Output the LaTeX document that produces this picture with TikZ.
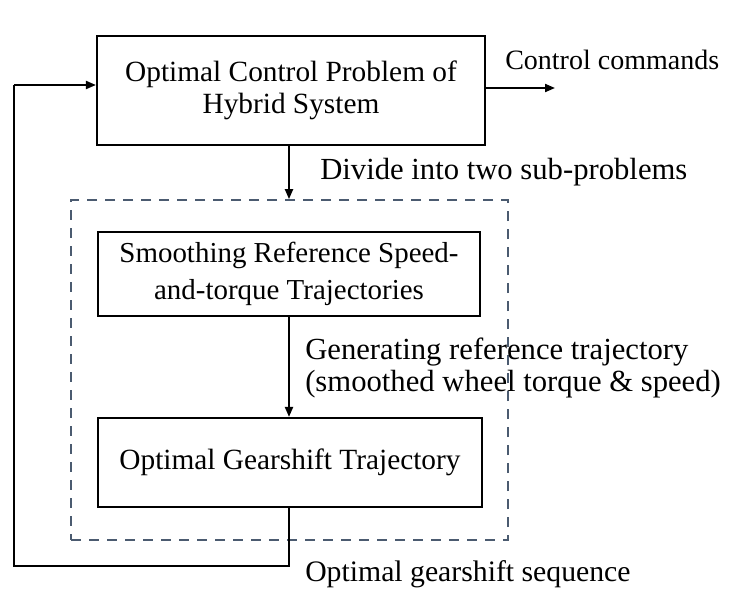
\documentclass[tikz,border=0pt]{standalone}
\usepackage{fontspec}
\setmainfont{Liberation Serif}
\usetikzlibrary{arrows.meta}
\definecolor{dashcol}{HTML}{4B5B70}
\tikzset{
  box/.style={draw=black, line width=1.6pt, align=center, inner sep=0pt},
  lbl/.style={anchor=west, inner sep=0pt, align=left},
  conn/.style={line width=1.5pt, -{Triangle[length=7.5pt,width=6pt]}},
  plain/.style={line width=1.5pt},
  dbox/.style={draw=dashcol, line width=1.3pt, dash pattern=on 7.5pt off 6pt, minimum width=437*0.75pt, minimum height=340*0.75pt, inner sep=0pt},
}
\begin{document}
\begin{tikzpicture}[x=0.75pt,y=-0.75pt,font=\fontsize{22}{24}\selectfont]
\useasboundingbox (0,0) rectangle (740,614);
\node[dbox] (dash) at (289.5,370) {};
\node[box, minimum width=388*0.75pt, minimum height=109*0.75pt] (top) at (291,90.5) {Optimal Control Problem of\\Hybrid System};
\node[box, minimum width=382*0.75pt, minimum height=84*0.75pt, font=\fontsize{21.7}{28}\selectfont] (mid) at (289,274) {Smoothing Reference Speed-\\and-torque Trajectories};
\node[box, minimum width=384*0.75pt, minimum height=89*0.75pt] (bot) at (290,462.5) {Optimal Gearshift Trajectory};
\node[lbl, font=\fontsize{21}{24}\selectfont] (lcc) at (505,60) {Control commands};
\node[lbl, font=\fontsize{23}{24}\selectfont] (ldiv) at (320,172) {Divide into two sub-problems};
\node[lbl, font=\fontsize{23}{24}\selectfont] (lgen) at (305,368) {Generating reference trajectory\\(smoothed wheel torque \& speed)};
\node[lbl, font=\fontsize{22.3}{24}\selectfont] (lopt) at (305,574) {Optimal gearshift sequence};
\coordinate (ccend) at (555,88);
\coordinate (c1) at (14,566);
\coordinate (c2) at (14,85);
\draw[conn] (top.east |- ccend) -- (ccend);
\draw[conn] (289,145) -- (dash.north -| 289,0);
\draw[conn] (mid.south -| 289,0) -- (bot.north -| 289,0);
\draw[plain] (bot.south -| 289,0) -- (289,566) -- (c1) -- (c2);
\draw[conn] (c2) -- (top.west |- c2);
\end{tikzpicture}
\end{document}
